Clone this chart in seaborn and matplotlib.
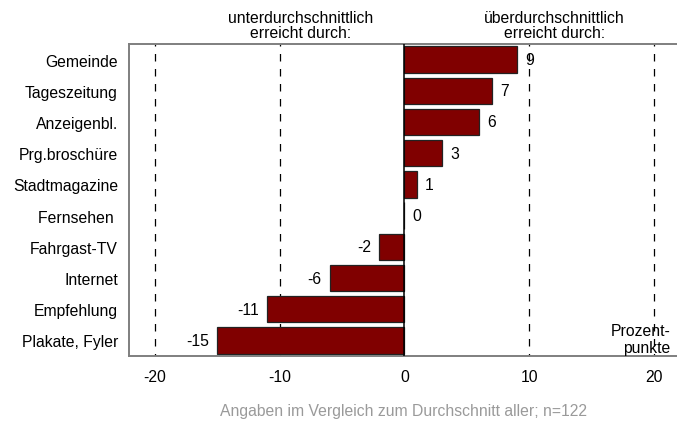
import pandas as pd
import seaborn as sns
import matplotlib
matplotlib.use("Agg")
import matplotlib.pyplot as plt

# Daten
kanaele = ["Gemeinde", "Tageszeitung", "Anzeigenbl.", "Prg.broschüre", "Stadtmagazine",
           "Fernsehen ", "Fahrgast-TV", "Internet", "Empfehlung", "Plakate, Fyler"]
werte = [9, 7, 6, 3, 1, 0, -2, -6, -11, -15]
xticks = [-20, -10, 0, 10, 20]

df = pd.DataFrame({"Kanal": kanaele, "Wert": werte})

sns.set_style("white")
plt.rcParams["font.family"] = ["Liberation Sans", "DejaVu Sans"]
plt.rcParams["axes.unicode_minus"] = False
plt.rcParams["text.color"] = "black"
plt.rcParams["xtick.color"] = "black"
plt.rcParams["ytick.color"] = "black"

fs = 11.3

fig = plt.figure(figsize=(6.77, 4.27), dpi=100)
ax = fig.add_axes([129 / 677, 1 - 357 / 427, 1 - 129 / 677, (357 - 45) / 427])

sns.barplot(data=df, x="Wert", y="Kanal", orient="h", color="#800000",
            saturation=1, width=0.84, edgecolor="#222222", linewidth=0.9, ax=ax)

# Gitterlinien
for t in xticks:
    if t == 0:
        ax.axvline(0, color="black", lw=1.1, zorder=3)
    else:
        ax.axvline(t, color="black", lw=0.9, ls=(4, (6, 6)), zorder=0)

for c in ax.containers:
    ax.bar_label(c, fmt="%d", padding=6, fontsize=fs)

ax.set_xlim(-22.07, 21.84)
ax.set_ylim(9.5, -0.5)
ax.set_xticks(xticks)
ax.set_xlabel("")
ax.set_ylabel("")
ax.tick_params(axis="both", length=0, labelsize=fs)
ax.tick_params(axis="y", pad=8)
ax.tick_params(axis="x", pad=9)

for s in ["left", "top", "bottom"]:
    ax.spines[s].set_color("#7f7f7f")
    ax.spines[s].set_linewidth(1.4)
ax.spines["right"].set_visible(False)

ax.text(-8.3, 1.013, "unterdurchschnittlich\nerreicht durch:", transform=ax.get_xaxis_transform(),
        ha="center", va="bottom", fontsize=fs, linespacing=1.0)
ax.text(12.0, 1.013, "überdurchschnittlich\nerreicht durch:", transform=ax.get_xaxis_transform(),
        ha="center", va="bottom", fontsize=fs, linespacing=1.0)
ax.text(21.3, 9.47, "Prozent-\npunkte", ha="right", va="bottom", fontsize=fs, linespacing=1.15)

fig.text(404 / 677, 1 - 412 / 427, "Angaben im Vergleich zum Durchschnitt aller; n=122",
         ha="center", va="center", fontsize=fs, color="#9a9a9a")

fig.savefig("out.png", dpi=100)
